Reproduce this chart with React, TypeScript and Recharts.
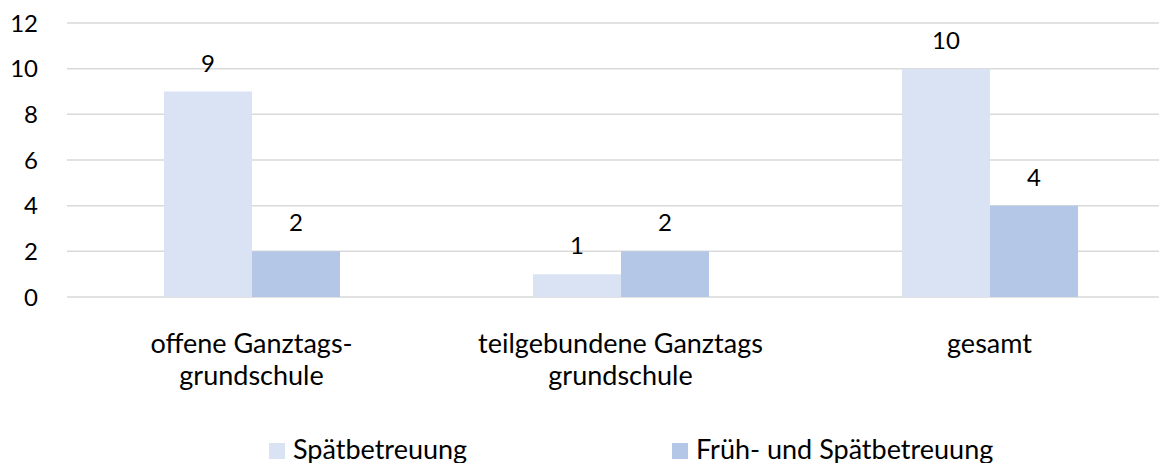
import React from "react";
import { BarChart, Bar, XAxis, YAxis, CartesianGrid, LabelList, Legend } from "recharts";

const categories = ["offene Ganztags-\ngrundschule", "teilgebundene Ganztags\ngrundschule", "gesamt"];
const spaetValues = [9, 1, 10];
const fruehSpaetValues = [2, 2, 4];
const yTicks = [0, 2, 4, 6, 8, 10, 12];
const seriesNames = ["Spätbetreuung", "Früh- und Spätbetreuung"];
const seriesColors = ["#DAE3F3", "#B4C7E7"];

const data = categories.map((c, i) => ({
  category: c,
  spaet: spaetValues[i],
  fruehSpaet: fruehSpaetValues[i],
}));

const FONT = "Lato, 'Open Sans', sans-serif";

const CategoryTick = (props: any) => {
  const { x, y, payload } = props;
  const lines = String(payload.value).split("\n");
  return (
    <text x={x} y={y} textAnchor="middle" fontFamily={FONT} fontSize={27} fill="#000">
      {lines.map((l, i) => (
        <tspan key={i} x={x} dy={i === 0 ? 56 : 32}>
          {l}
        </tspan>
      ))}
    </text>
  );
};

const legendLeft = [269, 672];

const LegendContent = () => (
  <div style={{ position: "relative", width: 0, height: 0 }}>
    {seriesNames.map((n, i) => (
      <React.Fragment key={n}>
        <div
          style={{
            position: "absolute",
            left: legendLeft[i],
            top: 443,
            width: 16,
            height: 16,
            background: seriesColors[i],
          }}
        />
        <span
          style={{
            position: "absolute",
            left: legendLeft[i] + 24,
            top: 435,
            fontFamily: FONT,
            fontSize: 27,
            lineHeight: "27px",
            whiteSpace: "nowrap",
            color: "#000",
          }}
        >
          {n}
        </span>
      </React.Fragment>
    ))}
  </div>
);

export default function App() {
  return (
    <div style={{ position: "absolute", left: 0, top: 0, width: 1159, height: 463, overflow: "hidden", background: "#fff" }}>
      <BarChart
        width={1174}
        height={463}
        data={data}
        margin={{ top: 23, right: 0, left: 0, bottom: 0 }}
        barGap={0}
      >
        <CartesianGrid vertical={false} stroke="#D9D9D9" strokeWidth={1.5} />
        <XAxis
          dataKey="category"
          height={166}
          axisLine={false}
          tickLine={false}
          tickSize={0}
          tickMargin={0}
          interval={0}
          tick={<CategoryTick />}
        />
        <YAxis
          width={67}
          domain={[0, 12]}
          ticks={yTicks}
          axisLine={false}
          tickLine={false}
          tickSize={0}
          tickMargin={29}
          tick={{ fontFamily: FONT, fontSize: 24, fill: "#000" }}
        />
        <Legend
          content={<LegendContent />}
          wrapperStyle={{ position: "absolute", top: 0, left: 0, width: 0, height: 0 }}
        />
        <Bar dataKey="spaet" name={seriesNames[0]} fill={seriesColors[0]} barSize={88} isAnimationActive={false}>
          <LabelList dataKey="spaet" position="top" offset={20} fontFamily={FONT} fontSize={24} fill="#000" />
        </Bar>
        <Bar dataKey="fruehSpaet" name={seriesNames[1]} fill={seriesColors[1]} barSize={88} isAnimationActive={false}>
          <LabelList dataKey="fruehSpaet" position="top" offset={20} fontFamily={FONT} fontSize={24} fill="#000" />
        </Bar>
      </BarChart>
    </div>
  );
}
